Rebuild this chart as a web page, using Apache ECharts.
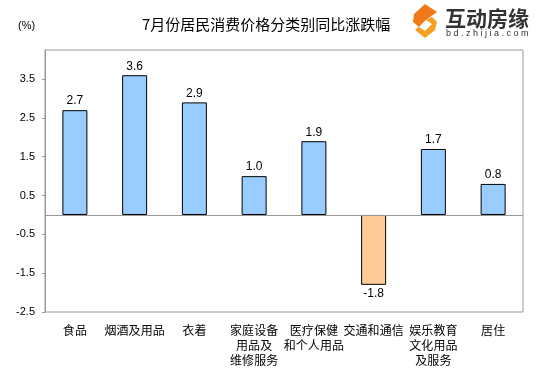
<!DOCTYPE html>
<html><head><meta charset="utf-8">
<script src="https://cdn.jsdelivr.net/npm/echarts@6/dist/echarts.min.js"></script>
<style>html,body{margin:0;padding:0;background:#fff}#c{width:537px;height:374px}</style>
</head><body><div id="c"></div>
<script>
var categories = ['食品', '烟酒及用品', '衣着', '家庭设备\n用品及\n维修服务', '医疗保健\n和个人用品', '交通和通信', '娱乐教育\n文化用品\n及服务', '居住'];
var values = [2.7, 3.6, 2.9, 1.0, 1.9, -1.8, 1.7, 0.8];
var yTicks = [-2.5, -1.5, -0.5, 0.5, 1.5, 2.5, 3.5];

var chart = echarts.init(document.getElementById('c'), null, {renderer: 'canvas'});
var cjk = '"Noto Sans CJK SC", "Noto Sans", sans-serif';
var latin = '"Liberation Sans", Arial, sans-serif';
chart.setOption({
  animation: false,
  backgroundColor: '#fff',
  title: {
    text: '7月份居民消费价格分类别同比涨跌幅',
    left: 137, top: 12,
    textStyle: {fontFamily: cjk, fontSize: 15, fontWeight: 'normal', color: '#000'}
  },
  graphic: [
    {type: 'text', left: 18, top: 20, style: {text: '(%)', fontFamily: latin, fontSize: 11, fill: '#000'}},
    {type: 'polygon', shape: {points: [[425, 4], [437, 12], [426, 20], [419, 27], [413, 22], [414, 14]]}, style: {fill: '#f07a1a'}},
    {type: 'polygon', shape: {points: [[426, 20], [432, 17], [437, 22], [435, 30], [425, 38], [415, 30]]}, style: {fill: '#f5a020'}},
    {type: 'polygon', shape: {points: [[419, 27], [426, 20], [432, 24], [425, 31]]}, style: {fill: '#fff'}},
    {type: 'text', left: 445, top: 8, style: {text: '互动房缘', fontFamily: cjk, fontSize: 21, fontWeight: 'bold', fill: '#333'}},
    {type: 'text', left: 446, top: 29, style: {text: 'b d . z h i j i a . c o m', fontFamily: latin, fontSize: 9, fill: '#333'}}
  ],
  grid: {left: 45, right: 14, top: 50, bottom: 62, show: true, borderColor: '#999', borderWidth: 1, containLabel: false},
  xAxis: {
    type: 'category',
    data: categories,
    axisLine: {show: false, onZero: false},
    axisTick: {show: false},
    axisLabel: {interval: 0, margin: 11, fontFamily: cjk, fontSize: 12, color: '#000', lineHeight: 15}
  },
  yAxis: {
    type: 'value',
    min: -2.5, max: 4.25, interval: 1,
    axisLine: {show: true, lineStyle: {color: '#999'}},
    axisTick: {show: true, length: 3, lineStyle: {color: '#999'}},
    splitLine: {show: false},
    axisLabel: {
      showMaxLabel: false, margin: 10, fontFamily: latin, fontSize: 11, color: '#000',
      formatter: function (v) { return yTicks.indexOf(Math.round(v * 10) / 10) >= 0 ? v.toFixed(1) : ''; }
    }
  },
  series: [{
    type: 'bar',
    barWidth: 25,
    data: values.map(function (v) {
      return {
        value: v,
        itemStyle: {color: v < 0 ? '#ffcc99' : '#99ccff', borderColor: '#000', borderWidth: 1},
        label: {position: v < 0 ? 'bottom' : 'top'}
      };
    }),
    label: {show: true, distance: 3, fontFamily: latin, fontSize: 12, color: '#000', formatter: function (p) { return p.value.toFixed(1); }},
    markLine: {
      silent: true, symbol: 'none', label: {show: false},
      lineStyle: {color: '#999', type: 'solid', width: 1},
      data: [{yAxis: 0}]
    }
  }]
});
</script></body></html>
